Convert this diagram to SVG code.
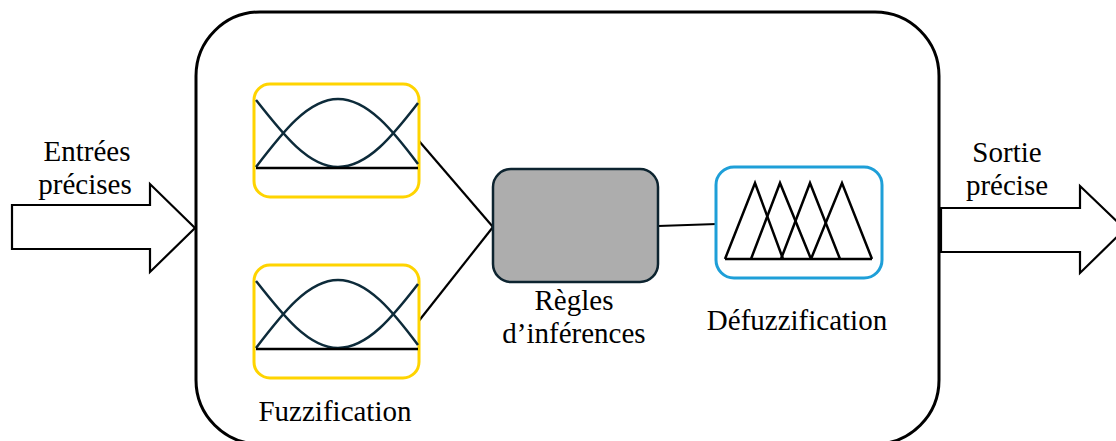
<svg xmlns="http://www.w3.org/2000/svg" width="1116" height="441" viewBox="0 0 1116 441">
<style>
  .lbl { font-family: "Liberation Serif", "Times New Roman", serif; font-size: 29px; fill: #000; text-anchor: middle; }
  .fz { fill: #fff; stroke: #FFD400; stroke-width: 3; }
  .curve { fill: none; stroke: #0D2B3A; stroke-width: 2.5; }
  .base { fill: none; stroke: #000; stroke-width: 2.5; }
  .conn { fill: none; stroke: #000; stroke-width: 2.2; }
  .arrow { fill: #fff; stroke: #000; stroke-width: 2.2; stroke-linejoin: miter; }
</style>
<rect width="1116" height="441" fill="#fff"/>

<g id="system">
  <rect x="196" y="12" width="743" height="432" rx="64" ry="64" fill="#fff" stroke="#000" stroke-width="3"/>
</g>

<g id="input-arrow">
  <polygon class="arrow" points="12,205 150,205 150,184 195,228 150,272 150,249 12,249"/>
  <text class="lbl" x="87" y="161">Entrées</text>
  <text class="lbl" x="85" y="194">précises</text>
</g>

<g id="output-arrow">
  <polygon class="arrow" points="941,208 1080,208 1080,186 1125,229 1080,273 1080,252 941,252"/>
  <text class="lbl" x="1007" y="162">Sortie</text>
  <text class="lbl" x="1007" y="195">précise</text>
</g>

<g id="connectors">
  <line class="conn" x1="419" y1="141" x2="493" y2="227"/>
  <line class="conn" x1="418" y1="322" x2="493" y2="227"/>
  <line class="conn" x1="658" y1="226" x2="717" y2="224"/>
</g>

<g id="fuzzification-1">
  <rect class="fz" x="254" y="84" width="165" height="113" rx="16" ry="16"/>
  <path class="curve" d="M256,167 C282.7,132 308.3,99 338,99 C367.7,99 393.3,131 418,164"/>
  <path class="curve" d="M256,100 C282.7,134 308.3,167 338,167 C367.7,167 393.3,135 418,103"/>
  <line class="base" x1="256" y1="168" x2="418" y2="168"/>
</g>

<g id="fuzzification-2">
  <rect class="fz" x="254" y="265" width="165" height="113" rx="16" ry="16"/>
  <path class="curve" d="M256,348 C282.7,313 308.3,280 338,280 C367.7,280 393.3,312 418,345"/>
  <path class="curve" d="M256,281 C282.7,315 308.3,348 338,348 C367.7,348 393.3,316 418,284"/>
  <line class="base" x1="256" y1="349" x2="418" y2="349"/>
  <text class="lbl" x="335" y="421">Fuzzification</text>
</g>

<g id="inference">
  <rect x="493" y="169" width="165" height="113" rx="18" ry="18" fill="#ADADAD" stroke="#0D2430" stroke-width="2.5"/>
  <text class="lbl" x="574" y="310">Règles</text>
  <text class="lbl" x="574" y="343">d’inférences</text>
</g>

<g id="defuzzification">
  <rect x="716" y="167" width="166" height="111" rx="18" ry="18" fill="#fff" stroke="#1E9FD8" stroke-width="3"/>
  <polyline class="base" points="725,259 755,183 783,259"/>
  <polyline class="base" points="751,259 780,183 811,259"/>
  <polyline class="base" points="781,259 810,183 840,259"/>
  <polyline class="base" points="811,259 842,183 872,259"/>
  <line class="base" x1="725" y1="259" x2="872" y2="259"/>
  <text class="lbl" x="797" y="330">Défuzzification</text>
</g>
</svg>
